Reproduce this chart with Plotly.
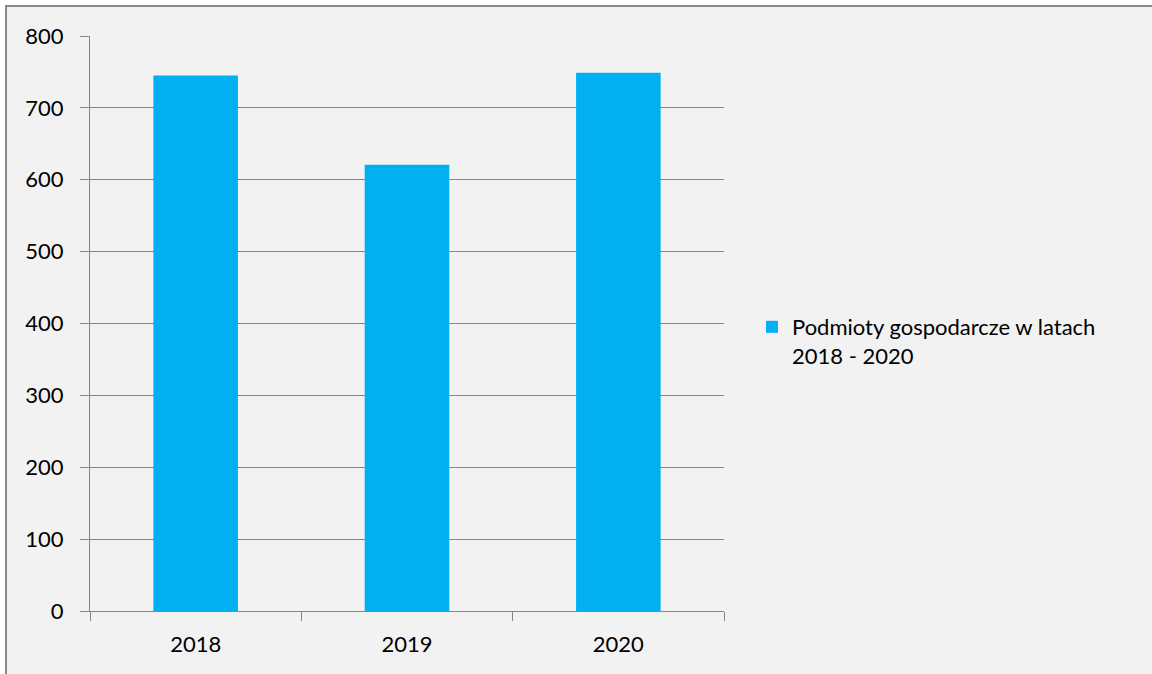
import plotly.graph_objects as go

years = ["2018", "2019", "2020"]
values = [745, 621, 749]
series_name = "Podmioty gospodarcze w latach<br>2018 - 2020"
y_ticks = [0, 100, 200, 300, 400, 500, 600, 700, 800]

W, H = 1152, 674
L, R, T, B = 90, 724, 36, 611

fig = go.Figure()
fig.add_trace(go.Bar(
    x=years, y=values, name=series_name,
    marker=dict(color="#00B0F0", line=dict(width=0)),
    width=0.4, showlegend=True,
))

font = dict(family="Lato, 'Open Sans', sans-serif", size=22, color="#000000")

fig.update_layout(
    width=W, height=H,
    margin=dict(l=L, r=W - R, t=T, b=H - B, pad=0, autoexpand=False),
    paper_bgcolor="#F2F2F2", plot_bgcolor="#F2F2F2",
    font=font,
    showlegend=True,
    legend=dict(x=(752 - L) / (R - L), y=(B - 306) / (B - T), xanchor="left", yanchor="top",
                bgcolor="rgba(0,0,0,0)", font=font, valign="top",
                itemwidth=30, tracegroupgap=0),
)
fig.update_xaxes(
    type="category", showline=True, linecolor="#868686", linewidth=1,
    ticks="outside", ticklen=9, tickcolor="#868686", tickwidth=1,
    tickson="boundaries", showgrid=False, ticklabelstandoff=14, automargin=False,
)
fig.update_yaxes(
    range=[0, 800], tickvals=y_ticks, showline=True, linecolor="#868686", linewidth=1,
    ticks="outside", ticklen=9, tickcolor="#868686", tickwidth=1,
    showgrid=True, gridcolor="#868686", gridwidth=1, zeroline=False,
    ticklabelstandoff=12, automargin=False,
)

# outer chart border (top and left edges, as in the reference)
px = lambda v: (v - L) / (R - L)
py = lambda v: (B - v) / (B - T)
fig.add_shape(type="line", xref="paper", yref="paper", x0=px(5), x1=px(W), y0=py(6), y1=py(6),
              line=dict(color="#898989", width=2))
fig.add_shape(type="line", xref="paper", yref="paper", x0=px(6), x1=px(6), y0=py(5), y1=py(H),
              line=dict(color="#898989", width=2))
# white strip outside the border
fig.add_shape(type="rect", xref="paper", yref="paper", x0=px(0), x1=px(W), y0=py(0), y1=py(5),
              line=dict(width=0), fillcolor="#FFFFFF", layer="below")
fig.add_shape(type="rect", xref="paper", yref="paper", x0=px(0), x1=px(5), y0=py(0), y1=py(H),
              line=dict(width=0), fillcolor="#FFFFFF", layer="below")

fig.write_html(
    "out.html", config={"displayModeBar": False},
    post_script="document.body.style.margin='0';document.documentElement.style.overflow='hidden';document.body.style.overflow='hidden';",
)
